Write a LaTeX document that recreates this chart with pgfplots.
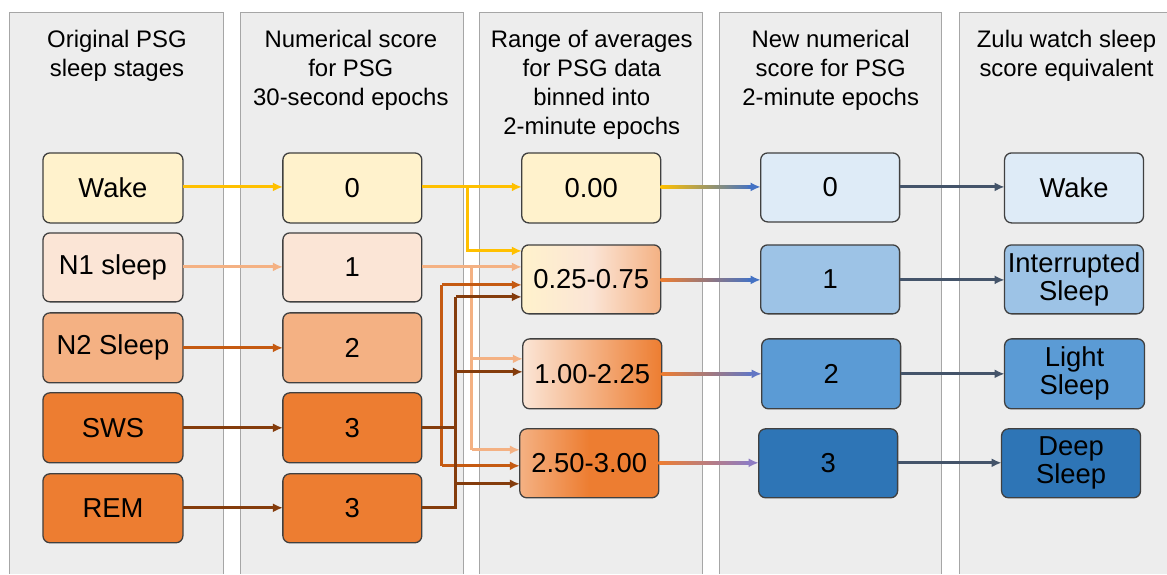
\documentclass[border=0pt]{standalone}
\usepackage{pgfplots}
\pgfplotsset{compat=1.18}
\usepackage{fontspec}
\setmainfont{Liberation Sans}
\usetikzlibrary{arrows.meta}
\definecolor{panel}{HTML}{EDEDED}
\definecolor{panelb}{HTML}{A6A6A6}
\definecolor{boxb}{HTML}{404040}
\definecolor{cWake}{HTML}{FFF2CC}
\definecolor{cN1}{HTML}{FBE5D6}
\definecolor{cN2}{HTML}{F4B183}
\definecolor{cDeep}{HTML}{ED7D31}
\definecolor{aYel}{HTML}{FFC000}
\definecolor{aLt}{HTML}{F4B183}
\definecolor{aMid}{HTML}{C55A11}
\definecolor{aBr}{HTML}{843C0C}
\definecolor{b0}{HTML}{DEEBF7}
\definecolor{b1}{HTML}{9DC3E6}
\definecolor{b2}{HTML}{5B9BD5}
\definecolor{b3}{HTML}{2E75B6}
\definecolor{aBlue}{HTML}{4472C4}
\definecolor{aPur}{HTML}{8E7CC3}
\definecolor{aSl}{HTML}{44546A}
\tikzset{
  ar/.style={line width=3pt, -{Latex[length=10pt,width=9pt]}},
  ln/.style={line width=3pt},
}
\newcommand\bx[6]{%
  \draw[draw=boxb, line width=1.3pt, rounded corners=7pt, #5] (#1,#2) rectangle (#3,#4);
  \node[font=\fontsize{27.5}{28}\selectfont, align=center, inner sep=0pt] at ({(#1+#3)/2},{(#2+#4)/2}) {#6};}
\newcommand\ttl[2]{\node[font=\fontsize{24}{29}\selectfont, align=center, anchor=north, inner sep=0pt] at (#1,30) {#2};}
\begin{document}
\begin{tikzpicture}
\begin{axis}[
  scale only axis, width=1167bp, height=574bp,
  xmin=0, xmax=1167, ymin=0, ymax=574, y dir=reverse,
  hide axis, clip=false,
]
\addplot[draw=none] coordinates {(0,0) (1167,574)};
% panels
\fill[panel] (960,13) rectangle (1167,574);
\draw[panelb, fill=panel, line width=1pt] (10,574) -- (10,13) -- (224,13) -- (224,574);
\draw[panelb, fill=panel, line width=1pt] (241,574) -- (241,13) -- (464,13) -- (464,574);
\draw[panelb, fill=panel, line width=1pt] (480,574) -- (480,13) -- (703,13) -- (703,574);
\draw[panelb, fill=panel, line width=1pt] (720,574) -- (720,13) -- (942,13) -- (942,574);
\draw[panelb, line width=1pt] (960,574) -- (960,13) -- (1167,13);
% titles
\ttl{117}{Original PSG\\sleep stages}
\ttl{351}{Numerical score\\for PSG\\30-second epochs}
\ttl{592}{Range of averages\\for PSG data\\binned into\\2-minute epochs}
\ttl{831}{New numerical\\score for PSG\\2-minute epochs}
\ttl{1067}{Zulu watch sleep\\score equivalent}
% column 1
\bx{43}{153}{183}{223}{fill=cWake}{Wake}
\bx{43}{233}{183}{302}{fill=cN1}{N1 sleep}
\bx{43}{313}{183}{383}{fill=cN2}{N2 Sleep}
\bx{43}{393}{183}{463}{fill=cDeep}{SWS}
\bx{43}{474}{183}{543}{fill=cDeep}{REM}
% column 2
\bx{283}{153}{422}{223}{fill=cWake}{0}
\bx{283}{233}{422}{302}{fill=cN1}{1}
\bx{283}{313}{422}{383}{fill=cN2}{2}
\bx{283}{393}{422}{463}{fill=cDeep}{3}
\bx{283}{474}{422}{543}{fill=cDeep}{3}
% arrows col1->col2
\draw[ar, aYel] (183,187) -- (283,187);
\draw[ar, aLt] (183,267) -- (283,267);
\draw[ar, aMid] (183,348) -- (283,348);
\draw[ar, aBr] (183,428) -- (283,428);
\draw[ar, aBr] (183,508) -- (283,508);
% wiring col2->col3
\draw[ar, aYel] (422,187) -- (522,187);
\draw[ar, aYel] (468,187) -- (468,251) -- (522,251);
\draw[ar, aLt] (422,267) -- (522,267);
\draw[ln, aLt] (472,267) -- (472,450);
\draw[ar, aLt] (472,359) -- (523,359);
\draw[ar, aLt] (472,450) -- (520,450);
\draw[ln, aMid] (442,466) -- (442,285);
\draw[ar, aMid] (442,285) -- (522,285);
\draw[ar, aMid] (442,466) -- (520,466);
\draw[ln, aBr] (422,428) -- (456,428);
\draw[ln, aBr] (422,508) -- (456,508) -- (456,297);
\draw[ar, aBr] (456,297) -- (522,297);
\draw[ar, aBr] (456,372) -- (523,372);
\draw[ar, aBr] (456,484) -- (520,484);
% column 3
\bx{522}{153}{661}{223}{fill=cWake}{0.00}
\bx{522}{245}{661}{314}{left color=cWake, right color=cN2, middle color=cN1}{0.25-0.75}
\bx{523}{339}{662}{409}{left color=cN1, right color=cDeep, middle color=cN2}{1.00-2.25}
\bx{520}{429}{659}{498}{left color=cN2, right color=cDeep, middle color=cDeep}{2.50-3.00}
% gradient arrows col3->col4
\shade[left color=aYel, right color=aBlue] (661,185.5) rectangle (752,188.5);
\draw[ar, aBlue] (748,187) -- (761,187);
\shade[left color=cDeep, right color=aBlue] (661,278.5) rectangle (752,281.5);
\draw[ar, aBlue] (748,280) -- (761,280);
\shade[left color=cDeep, right color=aBlue!60!aPur] (662,372.5) rectangle (752,375.5);
\draw[ar, aBlue!60!aPur] (748,374) -- (762,374);
\shade[left color=cDeep, right color=aPur] (659,461.5) rectangle (750,464.5);
\draw[ar, aPur] (746,463) -- (759,463);
% column 4
\bx{761}{153}{900}{222}{fill=b0}{0}
\bx{761}{245}{900}{314}{fill=b1}{1}
\bx{762}{339}{901}{409}{fill=b2}{2}
\bx{759}{429}{898}{498}{fill=b3}{3}
% arrows col4->col5
\draw[ar, aSl] (900,187) -- (1005,187);
\draw[ar, aSl] (900,280) -- (1005,280);
\draw[ar, aSl] (901,374) -- (1005,374);
\draw[ar, aSl] (898,463) -- (1002,463);
% column 5
\bx{1005}{153}{1144}{223}{fill=b0}{Wake}
\bx{1005}{245}{1144}{314}{fill=b1}{Interrupted\\Sleep}
\bx{1005}{339}{1145}{409}{fill=b2}{Light\\Sleep}
\bx{1002}{429}{1141}{498}{fill=b3}{Deep\\Sleep}
\end{axis}
\end{tikzpicture}
\end{document}
